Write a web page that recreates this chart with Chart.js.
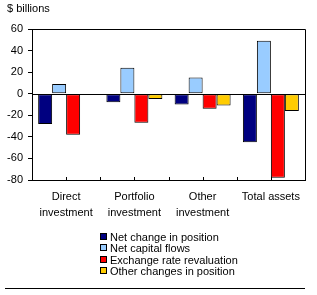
<!DOCTYPE html>
<html>
<head>
<meta charset="utf-8">
<script src="https://cdn.jsdelivr.net/npm/chart.js@4"></script>
<style>
  html, body { margin: 0; padding: 0; background: #fff; }
  #wrap { width: 317px; height: 295px; }
</style>
</head>
<body>
<div id="wrap"><canvas id="myChart" width="317" height="295"></canvas></div>
<script>
// chart data
const categories = [["Direct", "investment"], ["Portfolio", "investment"], ["Other", "investment"], "Total assets"];
const seriesNames = ["Net change in position", "Net capital flows", "Exchange rate revaluation", "Other changes in position"];
const netChange = [-28, -8, -10, -45];
const netFlows = [9, 24, 15, 49];
const fxRevaluation = [-38, -27, -14, -78];
const otherChanges = [-1, -5, -11, -16];
const seriesColors = ["#000080", "#99ccff", "#ff0000", "#ffcc00"];
const yTicks = [60, 40, 20, 0, -20, -40, -60, -80];

const FONT = "'Liberation Sans', Arial, sans-serif";
Chart.defaults.font.family = FONT;
Chart.defaults.font.size = 11;
Chart.defaults.color = "#000";

// frame, zero line, x minor ticks, title, legend, bottom rule
const decorations = {
  id: "decorations",
  afterDatasetsDraw(chart) {
    const { ctx, chartArea: a, scales } = chart;
    ctx.save();
    ctx.strokeStyle = "#000";
    ctx.lineWidth = 1;
    ctx.beginPath();
    ctx.moveTo(a.left, a.top + 0.5);
    ctx.lineTo(a.right + 0.5, a.top + 0.5);
    ctx.lineTo(a.right + 0.5, a.bottom);
    const y0 = Math.round(scales.y.getPixelForValue(0)) + 0.5;
    ctx.moveTo(a.left, y0);
    ctx.lineTo(a.right, y0);
    // ticks between and under the categories
    const step = scales.x.getPixelForValue(1) - scales.x.getPixelForValue(0);
    for (let i = 0; i < categories.length; i++) {
      const c = scales.x.getPixelForValue(i);
      [c - step / 2, c, c + step / 2].forEach(px => {
        const xx = Math.round(px) + 0.5;
        ctx.moveTo(xx, a.bottom);
        ctx.lineTo(xx, a.bottom - 3);
      });
    }
    ctx.stroke();

    ctx.fillStyle = "#000";
    ctx.font = "11px " + FONT;
    ctx.textBaseline = "middle";
    ctx.textAlign = "left";
    ctx.fillText("$ billions", 7, 9);

    // legend
    const lx = 100, ly = 237, lh = 11.3;
    chart.data.datasets.forEach((ds, i) => {
      const yy = Math.round(ly + i * lh);
      ctx.fillStyle = ds.backgroundColor;
      ctx.fillRect(lx, yy - 3, 6, 6);
      ctx.strokeStyle = "#000";
      ctx.strokeRect(lx + 0.5, yy - 3.5, 6, 6);
      ctx.fillStyle = "#000";
      ctx.fillText(ds.label, lx + 10, yy + 1);
    });

    // bottom rule
    ctx.beginPath();
    ctx.moveTo(5, 288.5);
    ctx.lineTo(305, 288.5);
    ctx.stroke();
    ctx.restore();
  }
};

const seriesData = [netChange, netFlows, fxRevaluation, otherChanges];

new Chart(document.getElementById("myChart"), {
  type: "bar",
  data: {
    labels: categories,
    datasets: seriesNames.map((name, i) => ({
      label: name,
      data: seriesData[i],
      backgroundColor: seriesColors[i],
      borderColor: "#000",
      borderWidth: 1,
      borderSkipped: false,
      categoryPercentage: 0.82,
      barPercentage: 1,
    })),
  },
  options: {
    responsive: false,
    animation: false,
    devicePixelRatio: 1,
    layout: { padding: { left: 4, right: 12, top: 29, bottom: 72 } },
    plugins: { legend: { display: false }, tooltip: { enabled: false } },
    scales: {
      x: {
        grid: { display: false },
        border: { display: true, color: "#000", width: 1 },
        ticks: { padding: 1, maxRotation: 0, font: { size: 11, lineHeight: 1.45 } },
        afterFit(scale) { scale.height = 43; },
      },
      y: {
        min: -80,
        max: 60,
        afterBuildTicks(scale) { scale.ticks = yTicks.map(v => ({ value: v })); },
        grid: { drawOnChartArea: false, drawTicks: true, tickLength: 4, color: "#000" },
        border: { display: true, color: "#000", width: 1 },
        ticks: { padding: 5, font: { size: 11 } },
        afterFit(scale) { scale.width = 28; },
      },
    },
  },
  plugins: [decorations],
});
</script>
</body>
</html>
